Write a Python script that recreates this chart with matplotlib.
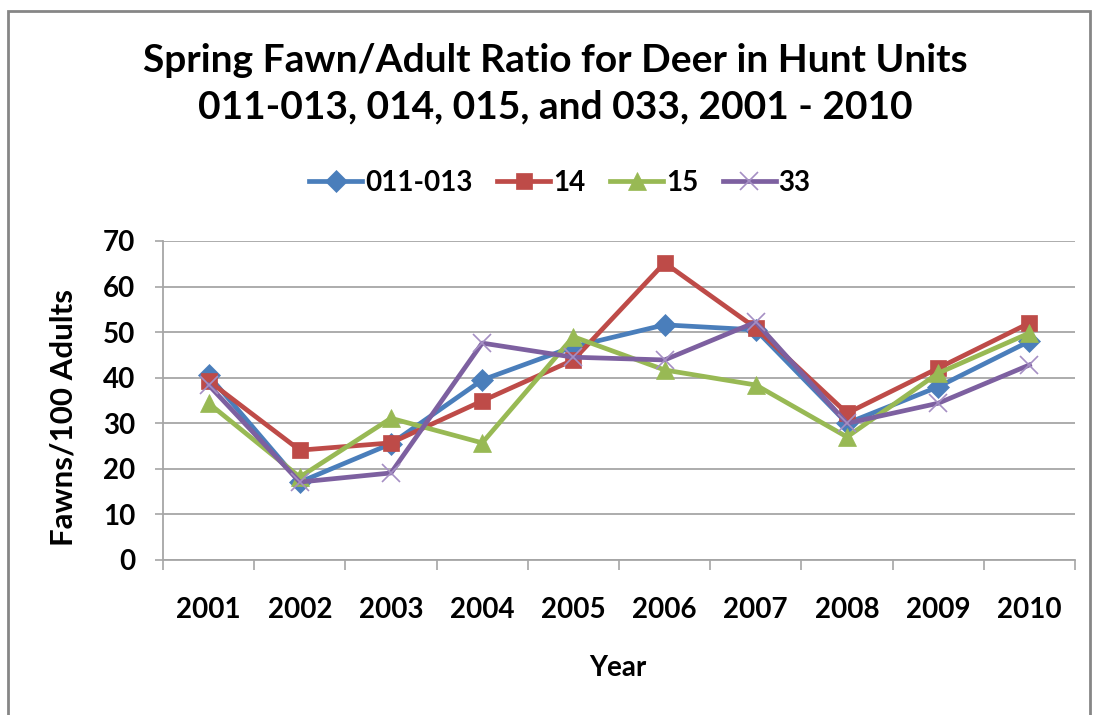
import matplotlib.pyplot as plt
from matplotlib.patches import Rectangle
from matplotlib.ticker import FixedLocator
import numpy as np

plt.rcParams['font.family'] = ['Lato', 'DejaVu Sans']

years = ["2001", "2002", "2003", "2004", "2005", "2006", "2007", "2008", "2009", "2010"]
unit_011_013 = [40.5, 17.1, 25.5, 39.5, 46.8, 51.6, 50.5, 30.0, 38.0, 48.0]
unit_14 = [39.3, 24.1, 25.7, 34.9, 43.9, 65.2, 50.9, 32.2, 42.1, 52.0]
unit_15 = [34.4, 18.2, 31.1, 25.7, 49.0, 41.7, 38.4, 27.0, 41.0, 49.8]
unit_33 = [38.4, 17.1, 19.1, 47.6, 44.5, 43.9, 52.2, 30.0, 34.4, 42.8]

series = [
    ("011-013", unit_011_013, "#4A7EBB", "D", 11, None),
    ("14", unit_14, "#BE4B48", "s", 12, None),
    ("15", unit_15, "#98B954", "^", 13, None),
    ("33", unit_33, "#7D60A0", "x", 13, "#A58FC4"),
]

fig = plt.figure(figsize=(10.93, 7.15), dpi=100)
ax = fig.add_axes([163 / 1093, 1 - 560 / 715, 912 / 1093, 319 / 715])

x = np.arange(len(years))
for name, vals, col, mk, ms, mcol in series:
    ax.plot(x, vals, color=col, lw=3.4, marker=mk, markersize=ms,
            markerfacecolor=mcol or col, markeredgecolor=mcol or col,
            markeredgewidth=1.2 if mk == "x" else 0.5, label=name, zorder=3)

ax.set_xlim(-0.5, len(years) - 0.5)
ax.set_ylim(0, 70)
ax.set_yticks(range(0, 71, 10))
ax.yaxis.grid(True, color="#A6A6A6", lw=1.3)
ax.set_axisbelow(True)

ax.set_xticks(x)
ax.set_xticklabels(years)
ax.xaxis.set_minor_locator(FixedLocator(np.arange(-0.5, len(years), 1.0)))
ax.tick_params(axis="x", which="major", length=0, pad=27, labelsize=20)
ax.tick_params(axis="x", which="minor", length=7, width=1.2, color="#A6A6A6", direction="out")
ax.tick_params(axis="y", length=6, width=1.2, color="#A6A6A6", pad=14, labelsize=20)
for lab in ax.get_xticklabels() + ax.get_yticklabels():
    lab.set_fontweight("bold")

for s in ["top", "right"]:
    ax.spines[s].set_visible(False)
for s in ["left", "bottom"]:
    ax.spines[s].set_color("#A6A6A6")
    ax.spines[s].set_linewidth(1.3)

ax.set_ylabel("Fawns/100 Adults", fontsize=22.5, fontweight="bold")
ax.yaxis.set_label_coords((64 - 163) / 912, (560 - 418) / 319)
ax.yaxis.label.set_va("center")
ax.set_xlabel("Year", fontsize=20, fontweight="bold")
ax.xaxis.set_label_coords((618 - 163) / 912, (560 - 668) / 319)
ax.xaxis.label.set_va("center")

fig.text(555 / 1093, 1 - 60 / 715, "Spring Fawn/Adult Ratio for Deer in Hunt Units",
         ha="center", va="center", fontsize=28, fontweight="bold")
fig.text(555 / 1093, 1 - 107 / 715, "011-013, 014, 015, and 033, 2001 - 2010",
         ha="center", va="center", fontsize=28, fontweight="bold")

leg = fig.legend(loc="center", bbox_to_anchor=(560 / 1093, 1 - 183 / 715), ncol=4, frameon=False,
                 handlelength=1.9, handletextpad=0.1, columnspacing=0.9,
                 prop={"weight": "bold", "size": 20})

# outer chart frame and cropped text from the page above
fig.patches.append(Rectangle((8 / 1093, -0.05), 1082 / 1093, 1.05 - 11 / 715,
                             transform=fig.transFigure, fill=False,
                             edgecolor="#868686", lw=2))
fig.text(0.0, 1.012, "2001 \u2013 2010.", ha="left", va="center", fontsize=20, fontweight="bold")

fig.savefig("out.png", dpi=100)
